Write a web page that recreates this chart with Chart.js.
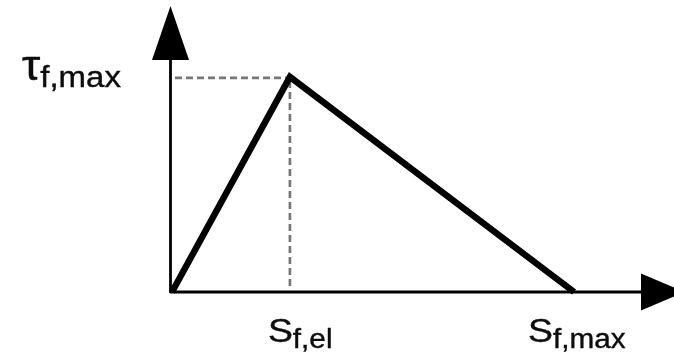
<!DOCTYPE html>
<html>
<head>
<meta charset="utf-8">
<script src="https://cdn.jsdelivr.net/npm/chart.js@4/dist/chart.umd.min.js"></script>
<style>
  html, body { margin: 0; padding: 0; background: #fff; overflow: hidden; }
  #wrap { width: 674px; height: 354px; position: relative; }
</style>
</head>
<body>
<div id="wrap"><canvas id="law" width="674" height="354"></canvas></div>
<script>
// Bilinear traction–separation law: linear rise to the peak, linear softening to zero.
const separations = [0, 1.0, 3.41];   // s: origin, s_f,el, s_f,max
const tractions   = [0, 1.0, 0];      // tau at each point (peak = tau_f,max)

// Axis extents (data units)
const xAxisMax = 4.24;
const yAxisMax = 1.33;
const xArrowTip = 4.35;

// Label texts: main symbol and subscript
const tauLabel   = ['τ', 'f,max'];
const sElLabel   = ['S', 'f,el'];
const sMaxLabel  = ['S', 'f,max'];

const FONT = '"Liberation Sans", Arial, Helvetica, sans-serif';
const TEXT_STRETCH = 1.1;

function drawSubLabel(ctx, left, baseline, parts, mainSize, subSize, subDrop) {
  ctx.save();
  ctx.translate(left, baseline);
  ctx.scale(TEXT_STRETCH, 1);
  ctx.fillStyle = '#0d0d0d';
  ctx.strokeStyle = '#0d0d0d';
  ctx.lineWidth = 0.4;
  ctx.textBaseline = 'alphabetic';
  ctx.textAlign = 'left';
  ctx.font = mainSize + 'px ' + FONT;
  ctx.fillText(parts[0], 0, 0);
  ctx.strokeText(parts[0], 0, 0);
  const w = ctx.measureText(parts[0]).width;
  ctx.font = subSize + 'px ' + FONT;
  ctx.fillText(parts[1], w, subDrop);
  ctx.strokeText(parts[1], w, subDrop);
  ctx.restore();
}

const lawAxes = {
  id: 'lawAxes',
  beforeDatasetsDraw(chart) {
    const { ctx, scales: { x, y } } = chart;
    const x0 = x.getPixelForValue(0);
    const y0 = y.getPixelForValue(0);
    const yTop = y.getPixelForValue(yAxisMax);
    const xTip = x.getPixelForValue(xArrowTip);
    const px = x.getPixelForValue(separations[1]);
    const py = y.getPixelForValue(tractions[1]);
    const head = 18.5;

    ctx.save();
    // dashed guides from the peak to both axes
    ctx.strokeStyle = '#777';
    ctx.lineWidth = 2.7;
    ctx.setLineDash([7, 4]);
    ctx.beginPath();
    ctx.moveTo(x0 + 3, py + 1);
    ctx.lineTo(px, py + 1);
    ctx.moveTo(px, py + 4);
    ctx.lineTo(px, y0 - 6);
    ctx.stroke();
    ctx.setLineDash([]);

    // axis lines
    ctx.strokeStyle = '#000';
    ctx.lineWidth = 2.8;
    ctx.beginPath();
    ctx.moveTo(x0 - 2, y0);
    ctx.lineTo(xTip - 40, y0);
    ctx.moveTo(x0 - 1.5, y0 + 1);
    ctx.lineTo(x0 - 1.5, yTop + 50);
    ctx.stroke();

    // arrowheads
    ctx.fillStyle = '#000';
    ctx.beginPath();
    ctx.moveTo(x0 - 1.5, yTop);
    ctx.lineTo(x0 - 1.5 + head, yTop + 54);
    ctx.lineTo(x0 - 1.5 - head, yTop + 54);
    ctx.closePath();
    ctx.fill();
    ctx.beginPath();
    ctx.moveTo(xTip, y0);
    ctx.lineTo(xTip - 44, y0 - head);
    ctx.lineTo(xTip - 44, y0 + head);
    ctx.closePath();
    ctx.fill();
    ctx.restore();
  },
  afterDraw(chart) {
    const { ctx, scales: { x, y } } = chart;
    const py = y.getPixelForValue(tractions[1]);
    const y0 = y.getPixelForValue(0);
    drawSubLabel(ctx, 22, py + 3, tauLabel, 42, 30, 7);
    drawSubLabel(ctx, x.getPixelForValue(separations[1]) - 22, y0 + 50, sElLabel, 34, 27, 6);
    drawSubLabel(ctx, x.getPixelForValue(separations[2]) - 46, y0 + 50, sMaxLabel, 34, 27, 6);
  }
};

new Chart(document.getElementById('law'), {
  type: 'line',
  data: {
    datasets: [{
      data: separations.map((s, i) => ({ x: s, y: tractions[i] })),
      borderColor: '#000',
      borderWidth: 6.5,
      borderJoinStyle: 'miter',
      borderCapStyle: 'butt',
      pointRadius: 0,
      tension: 0,
      fill: false,
      clip: false
    }]
  },
  options: {
    responsive: false,
    animation: false,
    devicePixelRatio: 1,
    layout: { padding: { left: 172, right: 2, top: 6, bottom: 62 } },
    plugins: { legend: { display: false }, tooltip: { enabled: false } },
    events: [],
    scales: {
      x: { type: 'linear', min: 0, max: xAxisMax, display: false },
      y: { type: 'linear', min: 0, max: yAxisMax, display: false }
    }
  },
  plugins: [lawAxes]
});
</script>
</body>
</html>
